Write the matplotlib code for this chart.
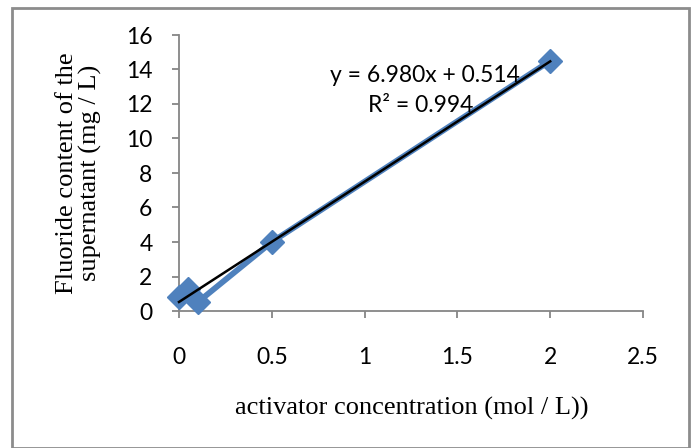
import numpy as np
import matplotlib
matplotlib.use("Agg")
import matplotlib.pyplot as plt
from matplotlib.patches import Rectangle

# Data
conc = [0.0, 0.05, 0.1, 0.5, 2.0]
fluoride = [0.8, 1.3, 0.5, 4.0, 14.5]
x_ticks = [0, 0.5, 1, 1.5, 2, 2.5]
x_tick_labels = ["0", "0.5", "1", "1.5", "2", "2.5"]
y_ticks = [0, 2, 4, 6, 8, 10, 12, 14, 16]
eq_text = "y = 6.980x + 0.514"
r2_text = "R² = 0.994"
x_label = "activator concentration (mol / L))"
y_label = "Fluoride content of the\nsupernatant (mg / L)"

W, H = 693, 448
fig = plt.figure(figsize=(W / 100, H / 100), dpi=100)
fig.patch.set_facecolor("white")

# outer border
fig.add_artist(Rectangle((12 / W, 0.0), (689 - 12) / W, (H - 8) / H,
                         transform=fig.transFigure, fill=False,
                         edgecolor="#8c8c8c", linewidth=2.0))

ax = fig.add_axes([179 / W, 1 - 311 / H, (643 - 179) / W, (311 - 35) / H])
ax.set_xlim(0, 2.5)
ax.set_ylim(0, 16)

gray = "#868686"
for s in ["top", "right"]:
    ax.spines[s].set_visible(False)
for s in ["left", "bottom"]:
    ax.spines[s].set_color(gray)
    ax.spines[s].set_linewidth(1.3)

ax.set_xticks(x_ticks)
ax.set_xticklabels(x_tick_labels)
ax.set_yticks(y_ticks)
ax.tick_params(axis="both", direction="out", length=5, width=1.3, color=gray,
               labelsize=16.5, labelcolor="black")
ax.tick_params(axis="x", pad=21)
ax.tick_params(axis="y", pad=14)
for lbl in ax.get_xticklabels() + ax.get_yticklabels():
    lbl.set_fontfamily(["Lato", "DejaVu Sans"])

# data series
ax.plot(conc, fluoride, color="#4F81BD", linewidth=4.2, marker="D",
        markersize=12.5, markerfacecolor="#4F81BD", markeredgecolor="#4F81BD",
        clip_on=False, zorder=3, solid_joinstyle="miter")

# trend line
coef = np.polyfit(conc, fluoride, 1)
xs = np.array([min(conc), max(conc)])
ax.plot(xs, np.polyval(coef, xs), color="black", linewidth=1.8, zorder=4,
        clip_on=False)

ax.text(1.325, 13.68, eq_text, ha="center", va="center", fontsize=16.5,
        family=["Lato", "DejaVu Sans"])
ax.text(1.30, 11.94, r2_text, ha="center", va="center", fontsize=16.5,
        family=["Lato", "DejaVu Sans"])

fig.text(412 / W, 1 - 408 / H, x_label, ha="center", va="center",
         fontsize=19, family=["Liberation Serif"])
fig.text(79 / W, 1 - 173 / H, y_label, ha="center", va="center",
         fontsize=19, family=["Liberation Serif"], rotation=90,
         multialignment="center", linespacing=1.0)

fig.savefig("out.png", dpi=100)
